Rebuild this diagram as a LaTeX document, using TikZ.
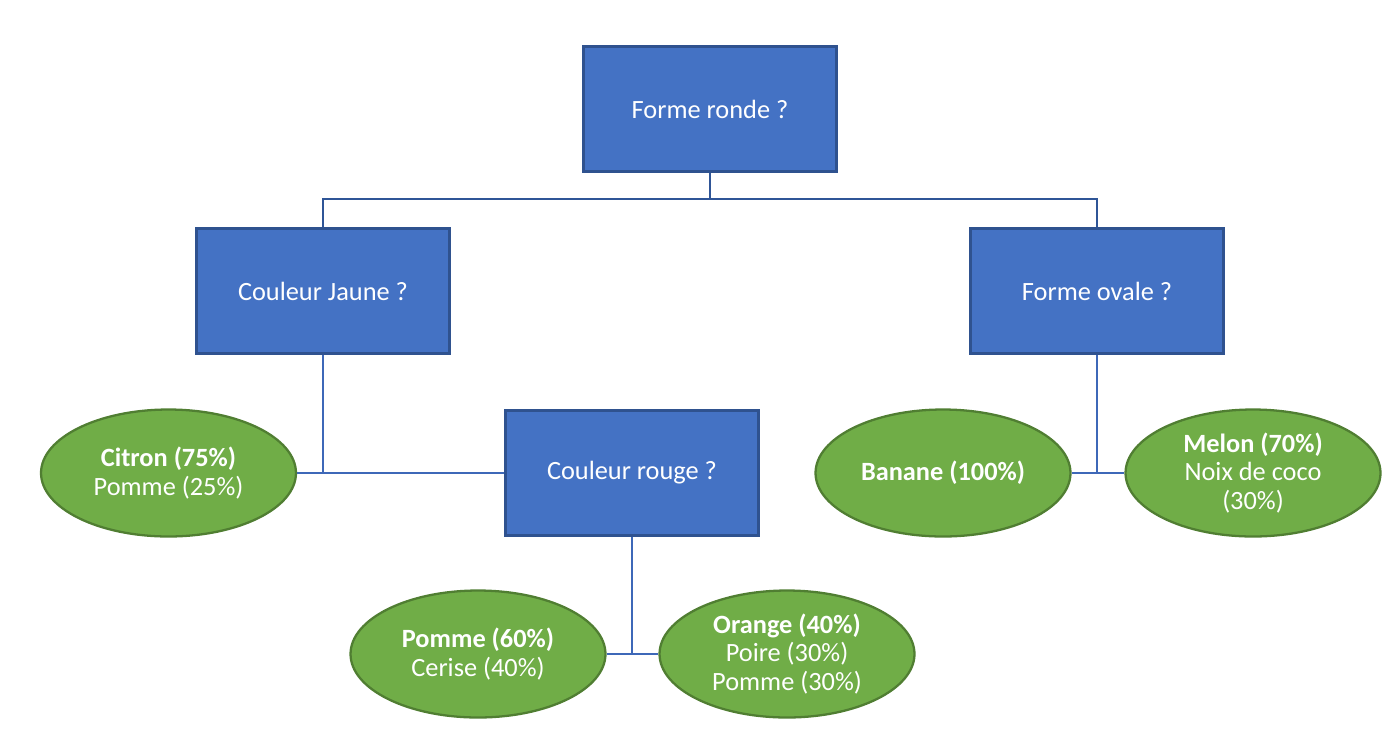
\documentclass[tikz,border=0pt]{standalone}
\usepackage{fontspec}
\setmainfont{Carlito}
\usetikzlibrary{shapes.geometric}
\definecolor{boxfill}{HTML}{4472C4}
\definecolor{boxline}{HTML}{2F528F}
\definecolor{ellfill}{HTML}{70AD47}
\definecolor{ellline}{HTML}{507E32}
\definecolor{conn}{HTML}{3E68B8}
\definecolor{conndark}{HTML}{2F5597}
\tikzset{
  qbox/.style={rectangle, draw=boxline, fill=boxfill, line width=1.8pt,
    minimum width=5.07cm, minimum height=2.51cm, inner sep=0pt,
    text=white, font=\fontsize{15}{16.1}\selectfont, align=center},
  leaf/.style={ellipse, draw=ellline, fill=ellfill, line width=1.3pt,
    minimum width=5.1cm, minimum height=2.54cm, inner sep=0pt,
    text=white, font=\fontsize{15}{16.1}\selectfont, align=center},
  link/.style={draw=conn, line width=1.4pt},
  linkdark/.style={draw=conndark, line width=1.6pt}
}
\begin{document}
\begin{tikzpicture}[x=0.02cm, y=-0.02cm]
\useasboundingbox (0,0) rectangle (1392,738);
\node[qbox] (fr) at (710,109) {Forme ronde ?};
\node[qbox] (cj) at (323,291) {Couleur Jaune ?};
\node[qbox] (fo) at (1097,291) {Forme ovale ?};
\node[qbox] (cr) at (632,473) {Couleur rouge ?};
\node[leaf] (citron) at (168.5,473) {\textbf{Citron (75\%)}\\Pomme (25\%)};
\node[leaf] (banane) at (943,473) {\textbf{Banane (100\%)}};
\node[leaf] (melon) at (1253,473) {\textbf{Melon (70\%)}\\Noix de coco\\(30\%)};
\node[leaf] (pomme) at (478,654) {\textbf{Pomme (60\%)}\\Cerise (40\%)};
\node[leaf] (orange) at (787,654) {\textbf{Orange (40\%)}\\Poire (30\%)\\Pomme (30\%)};
\coordinate (j1) at (710,199);
\draw[linkdark] (fr.south) -- (j1);
\draw[linkdark] (cj.north) -- (cj.north |- j1) -- (fo.north |- j1) -- (fo.north);
\draw[link] (citron.east) -- (cr.west);
\draw[link] (cj.south) -- (cj.south |- citron.east);
\draw[link] (banane.east) -- (melon.west);
\draw[link] (fo.south) -- (fo.south |- banane.east);
\draw[link] (pomme.east) -- (orange.west);
\draw[link] (cr.south) -- (cr.south |- pomme.east);
\end{tikzpicture}
\end{document}
